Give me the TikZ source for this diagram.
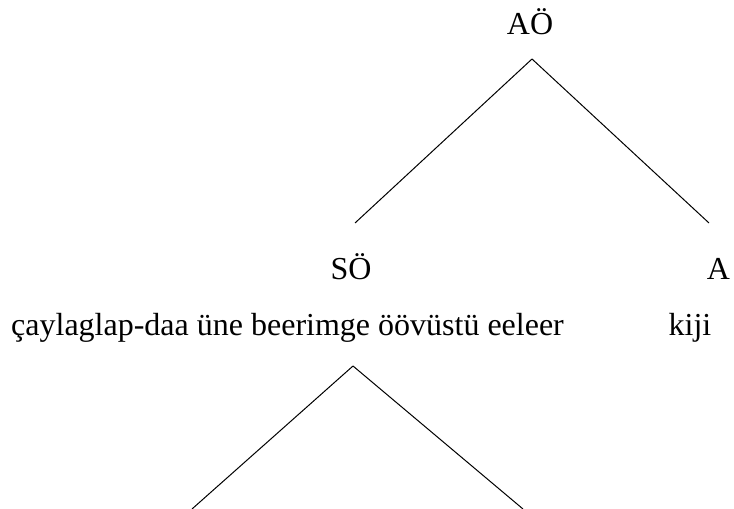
\documentclass[tikz,border=0pt]{standalone}
\usepackage{fontspec}
\setmainfont{Liberation Serif}
\usetikzlibrary{positioning}
\tikzset{
  every picture/.style={line width=0.75pt},
  cat/.style={font=\fontsize{24}{28}\selectfont, inner sep=0pt, anchor=base},
  branch/.style={draw=black, line width=0.75pt},
}

\begin{document}
\begin{tikzpicture}[x=0.75pt, y=-0.75pt]
  \useasboundingbox (0,0) rectangle (734,509);
  % top level
  \node[cat] (AO) at (530,35) {AÖ};
  \coordinate (AOfoot) at (532,59);
  \coordinate (SOhead) at (355,223);
  \coordinate (Ahead) at (709,223);
  \draw[branch] (AOfoot) -- (SOhead);
  \draw[branch] (AOfoot) -- (Ahead);
  % second level
  \node[cat] (SO) at (351,280) {SÖ};
  \node[cat] (A) at (718.5,280) {A};
  \node[cat] (verb) at (287.5,335) {çaylaglap-daa üne beerimge öövüstü eeleer};
  \node[cat] (kiji) at (690,335) {kiji};
  % lower branch
  \coordinate (verbfoot) at (353,366);
  \coordinate (leftend) at (192,509);
  \coordinate (rightend) at (523,509);
  \draw[branch] (verbfoot) -- (leftend);
  \draw[branch] (verbfoot) -- (rightend);
\end{tikzpicture}
\end{document}
